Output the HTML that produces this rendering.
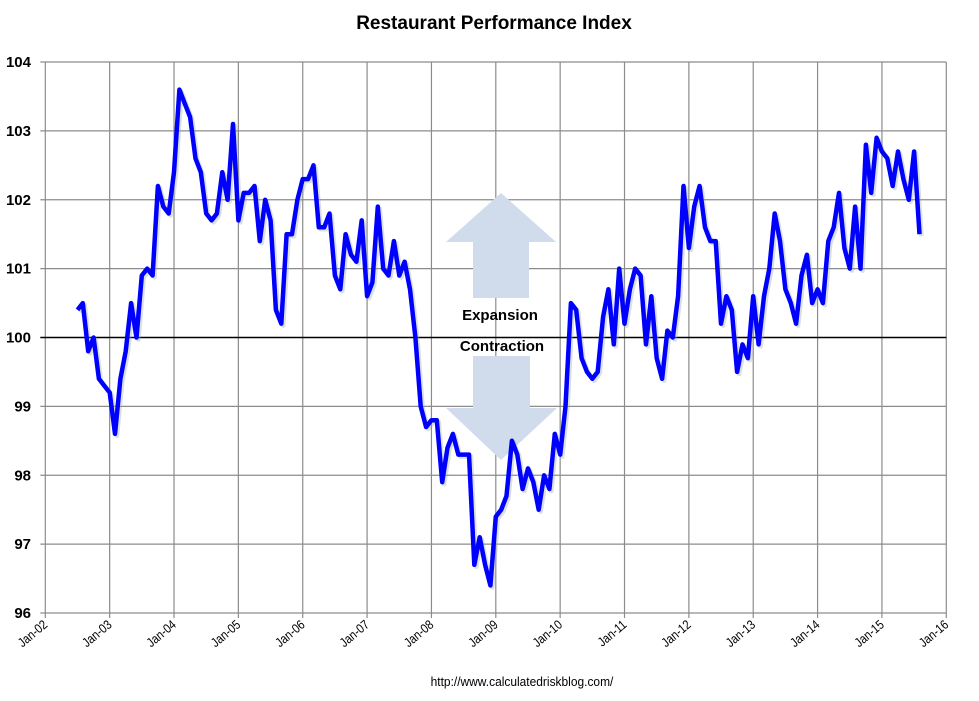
<!DOCTYPE html>
<html><head><meta charset="utf-8"><style>
body{margin:0;background:#fff;}
svg text{font-family:"Liberation Sans",sans-serif;}
</style></head><body>
<svg id="chart" width="979" height="696" viewBox="0 0 979 696" xmlns="http://www.w3.org/2000/svg">
<text x="494" y="29" text-anchor="middle" font-size="19" font-weight="bold">Restaurant Performance Index</text>
<g id="grid"></g>
<g fill="#d0dcec">
<polygon points="446,242 501,193 556,242 529,242 529,298 473,298 473,242"/>
</g>
<g fill="#d0dcec">
<polygon points="473,356 530,356 530,408 557,408 501,460 446,408 473,408"/>
</g>
<text x="500" y="320" text-anchor="middle" font-size="15" font-weight="bold">Expansion</text>
<text x="502" y="351" text-anchor="middle" font-size="15" font-weight="bold">Contraction</text>
<g id="axes"></g>
<g id="series"></g>
<text x="522" y="686" text-anchor="middle" font-size="13" transform="translate(522,0) scale(0.92,1) translate(-522,0)">http://www.calculatedriskblog.com/</text>
</svg>
<script>
const yTicks=[96,97,98,99,100,101,102,103,104];
const xTickLabels=["Jan-02","Jan-03","Jan-04","Jan-05","Jan-06","Jan-07","Jan-08","Jan-09","Jan-10","Jan-11","Jan-12","Jan-13","Jan-14","Jan-15","Jan-16"];
const startMonth=6; // Jul-02, months since Jan-02
const rpiValues=[100.4,100.5,99.8,100.0,99.4,99.3,99.2,98.6,99.4,99.8,100.5,100.0,100.9,101.0,100.9,102.2,101.9,101.8,
102.4,103.6,103.4,103.2,102.6,102.4,101.8,101.7,101.8,102.4,102.0,103.1,
101.7,102.1,102.1,102.2,101.4,102.0,101.7,100.4,100.2,101.5,101.5,102.0,
102.3,102.3,102.5,101.6,101.6,101.8,100.9,100.7,101.5,101.2,101.1,101.7,
100.6,100.8,101.9,101.0,100.9,101.4,100.9,101.1,100.7,100.0,99.0,98.7,
98.8,98.8,97.9,98.4,98.6,98.3,98.3,98.3,96.7,97.1,96.7,96.4,
97.4,97.5,97.7,98.5,98.3,97.8,98.1,97.9,97.5,98.0,97.8,98.6,
98.3,99.0,100.5,100.4,99.7,99.5,99.4,99.5,100.3,100.7,99.9,101.0,
100.2,100.7,101.0,100.9,99.9,100.6,99.7,99.4,100.1,100.0,100.6,102.2,
101.3,101.9,102.2,101.6,101.4,101.4,100.2,100.6,100.4,99.5,99.9,99.7,
100.6,99.9,100.6,101.0,101.8,101.4,100.7,100.5,100.2,100.9,101.2,100.5,
100.7,100.5,101.4,101.6,102.1,101.3,101.0,101.9,101.0,102.8,102.1,
102.9,102.7,102.6,102.2,102.7,102.3,102.0,102.7,101.5];
const NS="http://www.w3.org/2000/svg";
const X0=45.3,X1=946.3,Y0=613,Y1=62,VMIN=96,VMAX=104,MTOT=168;
function xScale(m){return X0+(X1-X0)*m/MTOT;}
function yScale(v){return Y0-(Y0-Y1)*(v-VMIN)/(VMAX-VMIN);}
const grid=document.getElementById('grid'),axes=document.getElementById('axes'),series=document.getElementById('series');
function mk(t,a,p){const e=document.createElementNS(NS,t);for(const k in a)e.setAttribute(k,a[k]);p.appendChild(e);return e;}
yTicks.forEach(v=>{
  const y=yScale(v);
  const l=mk('line',{x1:X0-5,x2:X1,y1:y,y2:y,stroke:v===100?'#000':'#8c8c8c','stroke-width':v===100?1.6:1.2},v===100?axes:grid);
  
  
  const t=mk('text',{x:31,y:y+5,'text-anchor':'end','font-size':15,'font-weight':'bold'},axes);
  t.textContent=v;
  
  
});
xTickLabels.forEach((s,i)=>{
  const x=xScale(i*12);
  const l=mk('line',{x1:x,x2:x,y1:Y1,y2:Y0+5,stroke:'#8c8c8c','stroke-width':1.2},grid);
  
  
  const t=mk('text',{transform:`translate(${x+3},${Y0+13}) rotate(-40) scale(0.85,1)`,'text-anchor':'end','font-size':13},axes);
  t.textContent=s;
  
  
});
const pts=rpiValues.map((v,i)=>xScale(startMonth+i).toFixed(1)+','+yScale(v).toFixed(1)).join(' ');
const sh=mk('polyline',{points:pts,fill:'none',stroke:'#9aa',opacity:0.35,'stroke-width':4.5,transform:'translate(2,2)','stroke-linejoin':'round'},series);


const pl=mk('polyline',{points:pts,fill:'none',stroke:'#0000ff','stroke-width':4.5,'stroke-linejoin':'round'},series);


</script>
</body></html>
